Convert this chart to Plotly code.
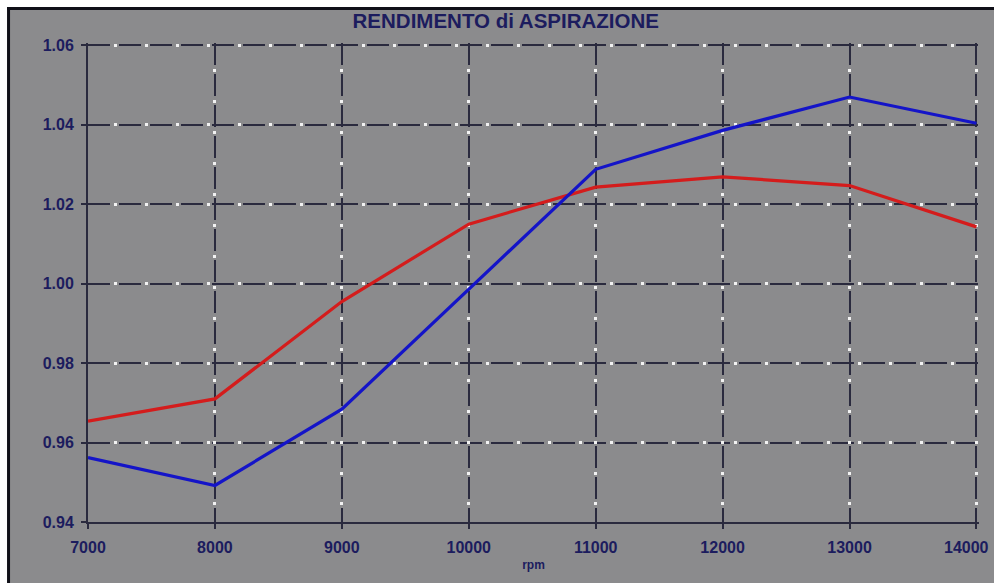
import plotly.graph_objects as go

rpm = [7000, 8000, 9000, 10000, 11000, 12000, 13000, 14000]
rend_red = [0.9654, 0.9710, 0.9955, 1.0150, 1.0243, 1.0269, 1.0247, 1.0143]
rend_blue = [0.9562, 0.9492, 0.9684, 0.9985, 1.0288, 1.0386, 1.0470, 1.0404]
x_ticklabels = ["7000", "8000", "9000", "10000", "11000", "12000", "13000", "14000"]

title_text = "RENDIMENTO di ASPIRAZIONE"
x_title = "rpm"

BG = "#8b8b8d"
NAVY = "#1c1c5e"
GRID = "#2a2a3e"
FONT = "Liberation Sans, Arial, sans-serif"

# ranges padded a hair so that the edge grid lines (1.06 and 14000) are drawn
X_RANGE = [7000, 14020]
Y_RANGE = [0.94, 1.0606]

W, H = 994, 583
ML, MR, MT, MB = 88, 14.5, 42.6, 61
PW, PH = W - ML - MR, H - MT - MB


def px(x):
    return (x - ML) / PW


def py(y):
    return (H - MB - y) / PH


# the last label is placed as an annotation so it stays inside the page
tick_text = x_ticklabels[:-1] + [""]

fig = go.Figure()
fig.add_trace(go.Scatter(x=rpm, y=rend_red, mode="lines",
                         line=dict(color="#d41c1c", width=3.2), showlegend=False))
fig.add_trace(go.Scatter(x=rpm, y=rend_blue, mode="lines",
                         line=dict(color="#1414c8", width=3.2), showlegend=False))
# helper trace for the overlay axes carrying the white dotted grid
fig.add_trace(go.Scatter(x=[rpm[0]], y=[rend_red[0]], xaxis="x2", yaxis="y2",
                         mode="markers", marker=dict(opacity=0), showlegend=False,
                         hoverinfo="skip"))

tickfont = dict(family=FONT, size=16, color=NAVY, weight="bold")

fig.add_annotation(x=rpm[-1], xref="x", y=0, yref="paper", text=x_ticklabels[-1],
                   showarrow=False, xanchor="right", yanchor="middle",
                   xshift=15, yshift=-25, font=tickfont)

fig.update_layout(
    width=W, height=H,
    margin=dict(l=ML, r=MR, t=MT, b=MB),
    paper_bgcolor=BG, plot_bgcolor=BG,
    title=dict(text="<b>" + title_text + "</b>", x=px(506), xref="paper", xanchor="center",
               y=1 - 21 / H, yref="container", yanchor="middle",
               font=dict(family=FONT, size=20.5, color=NAVY)),
    xaxis=dict(range=X_RANGE, tickmode="array", tickvals=rpm, ticktext=tick_text,
               showgrid=True, gridcolor=GRID, gridwidth=2, griddash="22px,9px",
               showline=True, linecolor=GRID, linewidth=2,
               ticks="outside", ticklen=5, tickcolor=GRID, tickwidth=2,
               tickfont=tickfont, ticklabelstandoff=5, zeroline=False,
               automargin=False,
               title=dict(text="<b>" + x_title + "</b>", standoff=5,
                          font=dict(family=FONT, size=12, color=NAVY))),
    yaxis=dict(range=Y_RANGE, dtick=0.02, tick0=0.94, tickformat=".2f",
               showgrid=True, gridcolor=GRID, gridwidth=2, griddash="22px,9px",
               showline=True, linecolor=GRID, linewidth=2,
               ticks="outside", ticklen=5, tickcolor=GRID, tickwidth=2,
               tickfont=tickfont, ticklabelstandoff=4, zeroline=False,
               automargin=False),
    xaxis2=dict(range=X_RANGE, tickmode="array", tickvals=rpm, overlaying="x",
                showgrid=True, gridcolor="#f2f2f2", gridwidth=2.5,
                griddash="0px,25.5px,3px,2.5px",
                showticklabels=False, ticks="", showline=False, zeroline=False),
    yaxis2=dict(range=Y_RANGE, dtick=0.02, tick0=0.94, overlaying="y",
                showgrid=True, gridcolor="#f2f2f2", gridwidth=2.5,
                griddash="0px,25.5px,3px,2.5px",
                showticklabels=False, ticks="", showline=False, zeroline=False),
    shapes=[
        # white outer strips (top and left) of the photographed screen
        dict(type="rect", xref="paper", yref="paper", x0=px(-5), x1=px(W + 5),
             y0=py(6.5), y1=py(-5), fillcolor="white", line_width=0, layer="below"),
        dict(type="rect", xref="paper", yref="paper", x0=px(-5), x1=px(7.5),
             y0=py(H + 5), y1=py(-5), fillcolor="white", line_width=0, layer="below"),
        # dark frame along the top and left edges
        dict(type="line", xref="paper", yref="paper", x0=px(7), x1=px(W + 5),
             y0=py(8), y1=py(8), line=dict(color="#101018", width=3)),
        dict(type="line", xref="paper", yref="paper", x0=px(8.5), x1=px(8.5),
             y0=py(H + 5), y1=py(6.5), line=dict(color="#101018", width=3)),
    ],
)

fig.write_html(
    "out.html",
    config={"displayModeBar": False},
    post_script="document.body.style.margin='0';"
                "document.documentElement.style.overflow='hidden';"
                "document.body.style.overflow='hidden';",
)
